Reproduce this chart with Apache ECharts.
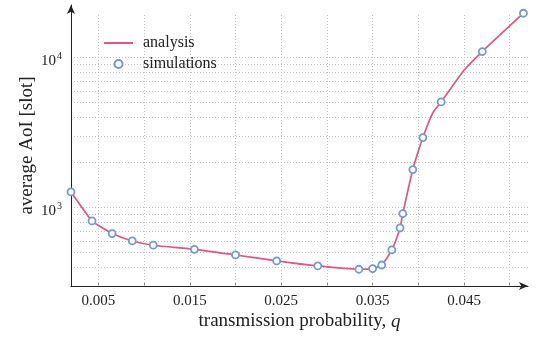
<!DOCTYPE html>
<html>
<head>
<meta charset="utf-8">
<style>
html,body{margin:0;padding:0;background:#fff;}
#c{width:540px;height:345px;}
</style>
<script src="https://cdn.jsdelivr.net/npm/echarts@6/dist/echarts.min.js"></script>
</head>
<body>
<div id="c"></div>
<script>
// simulation points (q, average AoI)
const qSim = [0.002, 0.0043, 0.0065, 0.0087, 0.011, 0.0155, 0.020, 0.0245, 0.029, 0.0335, 0.035, 0.036, 0.0371, 0.038, 0.0383, 0.0394, 0.0405, 0.0425, 0.047, 0.0515];
const aoiSim = [1271, 814, 671, 599, 561, 527, 483, 441, 408, 388, 392, 414, 522, 731, 912, 1792, 2929, 5058, 10965, 19740];
// analysis curve
const qAna = [0.002, 0.0043, 0.0052, 0.0065, 0.0087, 0.011, 0.0155, 0.020, 0.0245, 0.029, 0.0335, 0.035, 0.036, 0.0371, 0.038, 0.0383, 0.0394, 0.0405, 0.0416, 0.0425, 0.045, 0.047, 0.0515];
const aoiAna = [1271, 814, 747, 671, 599, 561, 527, 483, 441, 408, 388, 392, 414, 522, 731, 912, 1792, 2929, 4298, 5058, 8228, 10965, 19740];
// ticks
const xTicks = [0.005, 0.01, 0.015, 0.02, 0.025, 0.03, 0.035, 0.04, 0.045, 0.05];
const xLabels = [0.005, 0.015, 0.025, 0.035, 0.045];
const yTicks = [300, 400, 500, 600, 700, 800, 900, 1000, 2000, 3000, 4000, 5000, 6000, 7000, 8000, 9000, 10000];
const yLabels = [1000, 10000];
const gridTop = 19600; // upper end of the vertical grid lines

const FONT = 'Liberation Serif';
const TXT = '#222';
const GRID = {color: '#c4c4c4', type: [1, 2], width: 1};
const chart = echarts.init(document.getElementById('c'), null, {renderer: 'canvas'});
chart.setOption({
  animation: false,
  backgroundColor: '#fff',
  textStyle: {fontFamily: FONT, color: TXT},
  grid: {left: 71, right: 12, top: 5, bottom: 59, containLabel: false},
  legend: {
    orient: 'vertical', left: 98, top: 30, itemWidth: 29, itemHeight: 8, itemGap: 5,
    textStyle: {fontFamily: FONT, fontSize: 16, color: TXT, padding: [0, 0, 0, 5]},
    data: [{name: 'analysis', itemStyle: {opacity: 0}}, {name: 'simulations'}]
  },
  xAxis: {
    type: 'value', min: 0.002, max: 0.052,
    axisLine: {show: true, symbol: ['none', 'arrow'], symbolSize: [6, 9], lineStyle: {color: '#222', width: 1}},
    axisTick: {show: true, inside: true, length: 3, lineStyle: {color: '#888'}, customValues: xTicks},
    axisLabel: {customValues: xLabels, margin: 8, fontFamily: FONT, fontSize: 15, color: TXT,
      formatter: v => v.toFixed(3)},
    splitLine: {show: false},
    name: 'transmission probability, {i|q}', nameLocation: 'middle', nameGap: 26, nameMoveOverlap: false,
    nameTextStyle: {fontFamily: FONT, fontSize: 19, color: TXT,
      rich: {i: {fontFamily: FONT, fontSize: 19, fontStyle: 'italic', color: TXT}}}
  },
  yAxis: {
    type: 'log', logBase: 10, min: 300, max: 22400,
    axisLine: {show: true, symbol: ['none', 'arrow'], symbolSize: [6, 9], lineStyle: {color: '#222', width: 1}},
    axisTick: {show: false, customValues: yTicks},
    axisLabel: {customValues: yLabels, margin: 9, fontFamily: FONT, color: TXT, padding: [8, 0, 0, 0],
      formatter: v => '{b|10}{s|' + Math.round(Math.log10(v)) + '}',
      rich: {b: {fontFamily: FONT, fontSize: 15, color: TXT},
             s: {fontFamily: FONT, fontSize: 10, color: TXT, verticalAlign: 'top', padding: [0, 0, 10, 1]}}},
    splitLine: {show: true, lineStyle: GRID},
    name: 'average AoI [slot]', nameLocation: 'middle', nameGap: 34, nameMoveOverlap: false,
    nameTextStyle: {fontFamily: FONT, fontSize: 19, color: TXT}
  },
  series: [
    {
      name: 'analysis', type: 'line', symbol: 'none', smooth: 0.2,
      data: qAna.map((q, i) => [q, aoiAna[i]]),
      lineStyle: {color: '#e4547f', width: 1.7}, itemStyle: {color: '#e4547f'}, z: 2,
      markLine: {
        silent: true, symbol: ['none', 'none'], label: {show: false}, z: 1,
        lineStyle: GRID, emphasis: {disabled: true},
        data: xTicks.map(q => [{coord: [q, 300]}, {coord: [q, gridTop]}])
      }
    },
    {
      name: 'simulations', type: 'scatter', symbol: 'circle', symbolSize: 7,
      data: qSim.map((q, i) => [q, aoiSim[i]]),
      itemStyle: {color: '#ffffff', borderColor: '#6f9bd6', borderWidth: 1.8, opacity: 1}, z: 3
    }
  ]
});
</script>
</body>
</html>
